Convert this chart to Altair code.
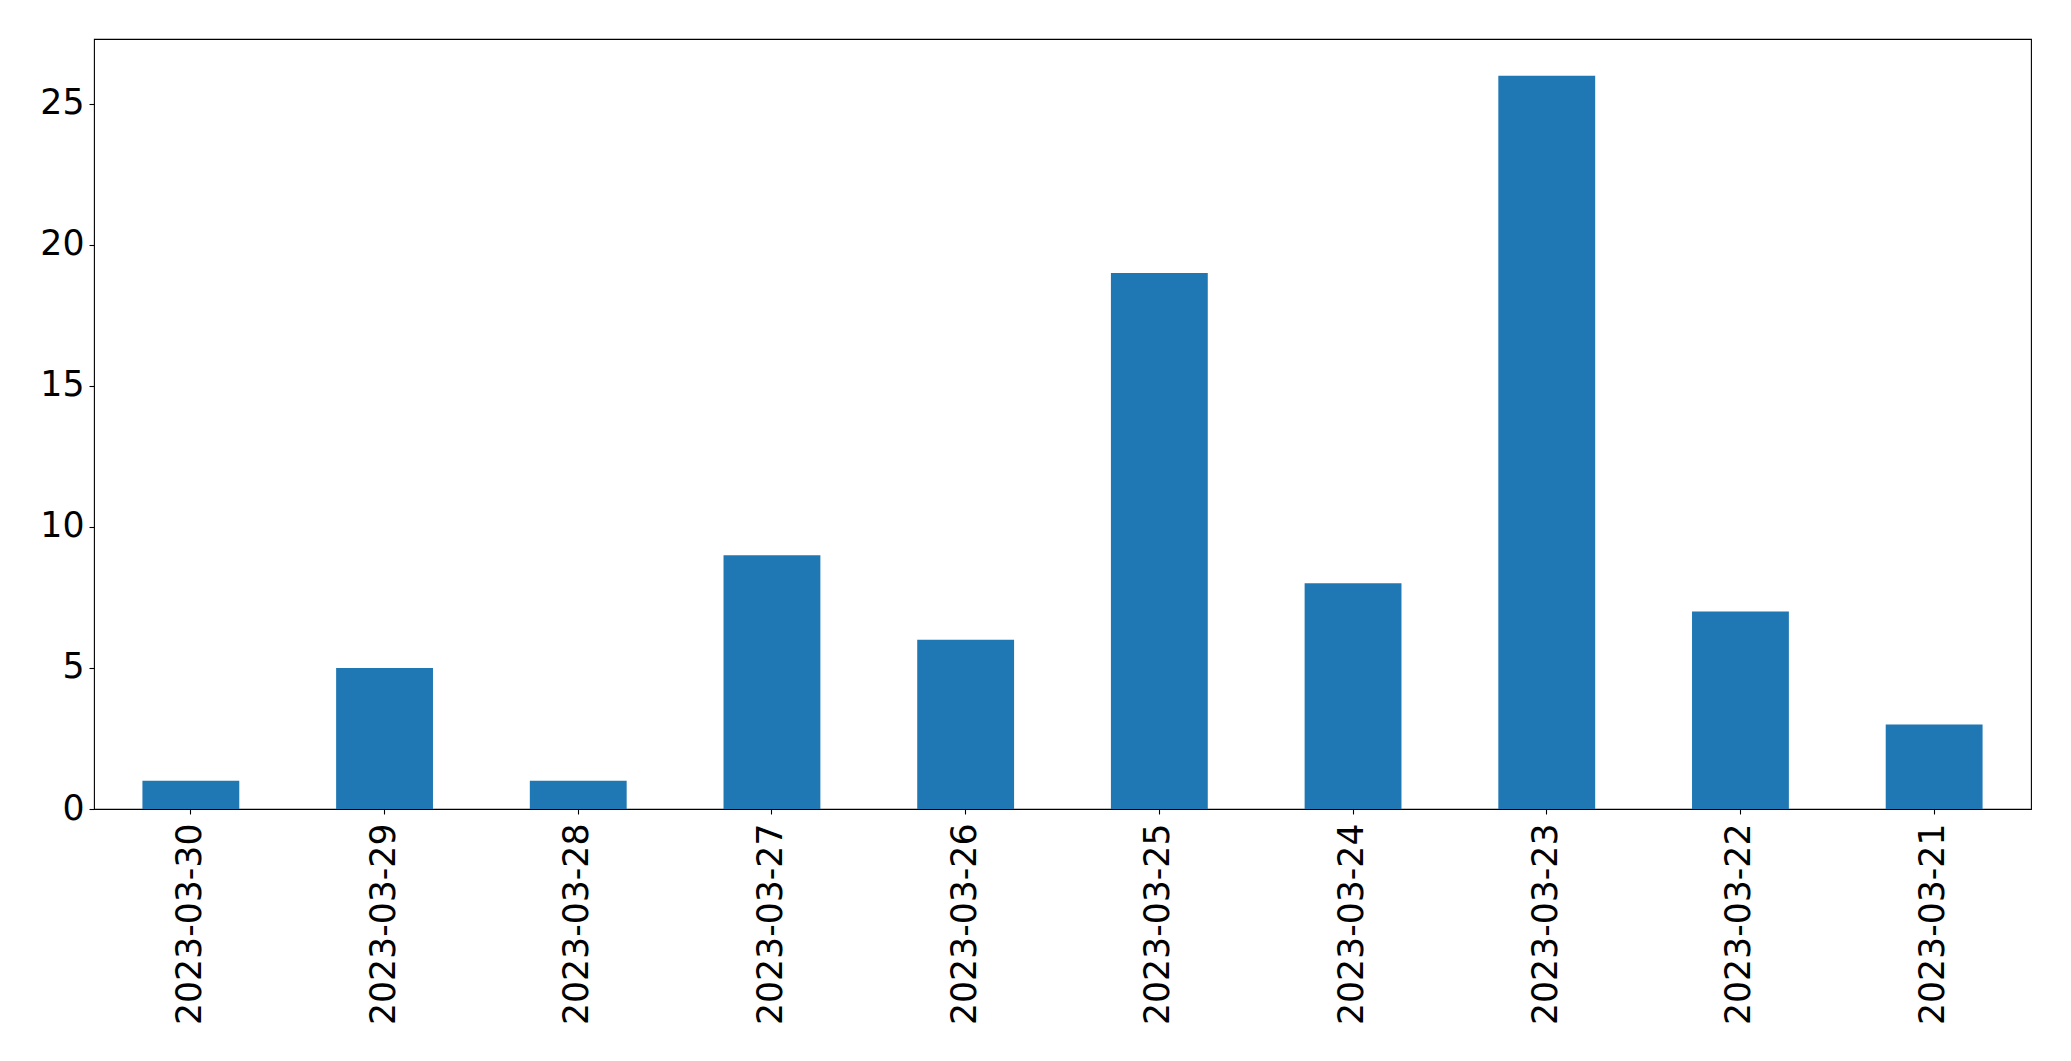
import altair as alt
import pandas as pd

dates = ["2023-03-30", "2023-03-29", "2023-03-28", "2023-03-27", "2023-03-26",
         "2023-03-25", "2023-03-24", "2023-03-23", "2023-03-22", "2023-03-21"]
counts = [1, 5, 1, 9, 6, 19, 8, 26, 7, 3]
y_ticks = [0, 5, 10, 15, 20, 25]

df = pd.DataFrame({"date": dates, "count": counts})

FONT = "DejaVu Sans"

chart = alt.Chart(df).mark_bar(color="#1f77b4").encode(
    x=alt.X("date:N", sort=dates, title=None,
            scale=alt.Scale(paddingInner=0.5, paddingOuter=0.25),
            axis=alt.Axis(labelAngle=270, labelFont=FONT, labelFontSize=34.7,
                          labelColor="black", tickColor="black", tickSize=5,
                          tickWidth=1.1, labelPadding=9, labelLimit=500,
                          domain=False, grid=False)),
    y=alt.Y("count:Q", title=None,
            scale=alt.Scale(domain=[0, 27.3], nice=False, zero=True),
            axis=alt.Axis(values=y_ticks, labelFont=FONT, labelFontSize=34.7,
                          labelColor="black", tickColor="black", tickSize=5,
                          tickWidth=1.1, labelPadding=5, domain=False, grid=False)),
).properties(
    width=1937,
    height=770,
    autosize=alt.AutoSizeParams(type="none"),
    padding={"left": 86, "top": 31, "right": 30, "bottom": 236},
).configure_view(
    stroke="black", strokeWidth=1.1
)

chart.save("out.html", embed_options={"renderer": "svg", "actions": False})
